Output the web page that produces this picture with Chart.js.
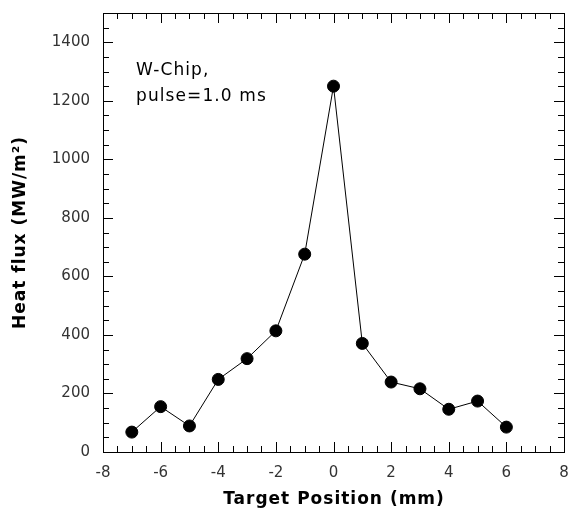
<!DOCTYPE html>
<html>
<head>
<meta charset="utf-8">
<script src="https://cdn.jsdelivr.net/npm/chart.js@4"></script>
<style>
  html, body { margin: 0; padding: 0; background: #fff; }
  #wrap { width: 571px; height: 512px; }
</style>
</head>
<body>
<div id="wrap"><canvas id="heat-chart" width="571" height="512"></canvas></div>
<script>
// values
const positions = [-7, -6, -5, -4, -3, -2, -1, 0, 1, 2, 3, 4, 5, 6];
const heatFlux = [68, 155, 89, 248, 319, 414, 676, 1250, 371, 239, 216, 146, 174, 85];
const xTicks = [-8, -6, -4, -2, 0, 2, 4, 6, 8];
const yTicks = [0, 200, 400, 600, 800, 1000, 1200, 1400];
const noteLines = ["W-Chip,", "pulse=1.0 ms"];
const xTitle = "Target Position (mm)";
const yTitle = "Heat flux (MW/m\u00B2)";

const FONT = "'DejaVu Sans', sans-serif";

// frame + inward ticks on all four sides, plus titles and note
const framePlugin = {
  id: "frame",
  afterDraw(chart) {
    const ctx = chart.ctx;
    const a = chart.chartArea;
    const xs = chart.scales.x, ys = chart.scales.y;
    ctx.save();
    ctx.strokeStyle = "#000";
    ctx.lineWidth = 1;
    ctx.strokeRect(Math.round(a.left) + 0.5, Math.round(a.top) + 0.5,
      Math.round(a.right - a.left), Math.round(a.bottom - a.top));
    ctx.beginPath();
    for (let v = xs.min; v <= xs.max + 1e-9; v += 0.5) {
      const p = Math.round(xs.getPixelForValue(v)) + 0.5;
      const len = (Math.abs(v % 2) < 1e-9) ? 10 : 6;
      ctx.moveTo(p, a.bottom); ctx.lineTo(p, a.bottom - len);
      ctx.moveTo(p, a.top); ctx.lineTo(p, a.top + len);
    }
    for (let v = ys.min; v <= ys.max + 1e-9; v += 50) {
      const p = Math.round(ys.getPixelForValue(v)) + 0.5;
      const len = (v % 200 === 0) ? 10 : 6;
      ctx.moveTo(a.left, p); ctx.lineTo(a.left + len, p);
      ctx.moveTo(a.right, p); ctx.lineTo(a.right - len, p);
    }
    ctx.stroke();

    ctx.fillStyle = "#000";
    ctx.font = "bold 17px " + FONT;
    ctx.letterSpacing = "1px";
    ctx.textAlign = "center";
    ctx.textBaseline = "middle";
    ctx.fillText(xTitle, 334, 500);
    ctx.translate(21, (a.top + a.bottom) / 2);
    ctx.rotate(-Math.PI / 2);
    ctx.fillText(yTitle, 0, 0);
    ctx.restore();

    ctx.save();
    ctx.fillStyle = "#000";
    ctx.font = "17px " + FONT;
    ctx.letterSpacing = "1.1px";
    ctx.textAlign = "left";
    ctx.textBaseline = "middle";
    noteLines.forEach((t, i) => ctx.fillText(t, 136, 71 + i * 26));
    ctx.restore();
  }
};

const chart = new Chart(document.getElementById("heat-chart"), {
  type: "scatter",
  data: {
    datasets: [{
      data: positions.map((x, i) => ({ x: x, y: heatFlux[i] })),
      showLine: true,
      borderColor: "#000",
      borderWidth: 1,
      backgroundColor: "#000",
      pointRadius: 6,
      pointHoverRadius: 6
    }]
  },
  options: {
    responsive: false,
    animation: false,
    layout: { padding: { top: 13, right: 2, left: 0, bottom: 0 } },
    plugins: { legend: { display: false }, tooltip: { enabled: false } },
    scales: {
      x: {
        type: "linear",
        min: -8, max: 8,
        afterBuildTicks: s => { s.ticks = xTicks.map(v => ({ value: v })); },
        afterFit: s => { s.height = 60; s.paddingLeft = 0; s.paddingRight = 0; },
        grid: { display: false, drawTicks: false },
        border: { display: false },
        ticks: { padding: 12, color: "#333", font: { family: FONT, size: 15 }, maxRotation: 0,
          callback: v => String(v) }
      },
      y: {
        type: "linear",
        min: 0, max: 1500,
        afterBuildTicks: s => { s.ticks = yTicks.map(v => ({ value: v })); },
        afterFit: s => { s.width = 103; s.paddingTop = 0; s.paddingBottom = 0; },
        grid: { display: false, drawTicks: false },
        border: { display: false },
        ticks: { padding: 13, color: "#333", font: { family: FONT, size: 15 },
          callback: v => String(v) }
      }
    }
  },
  plugins: [framePlugin]
});
</script>
</body>
</html>
